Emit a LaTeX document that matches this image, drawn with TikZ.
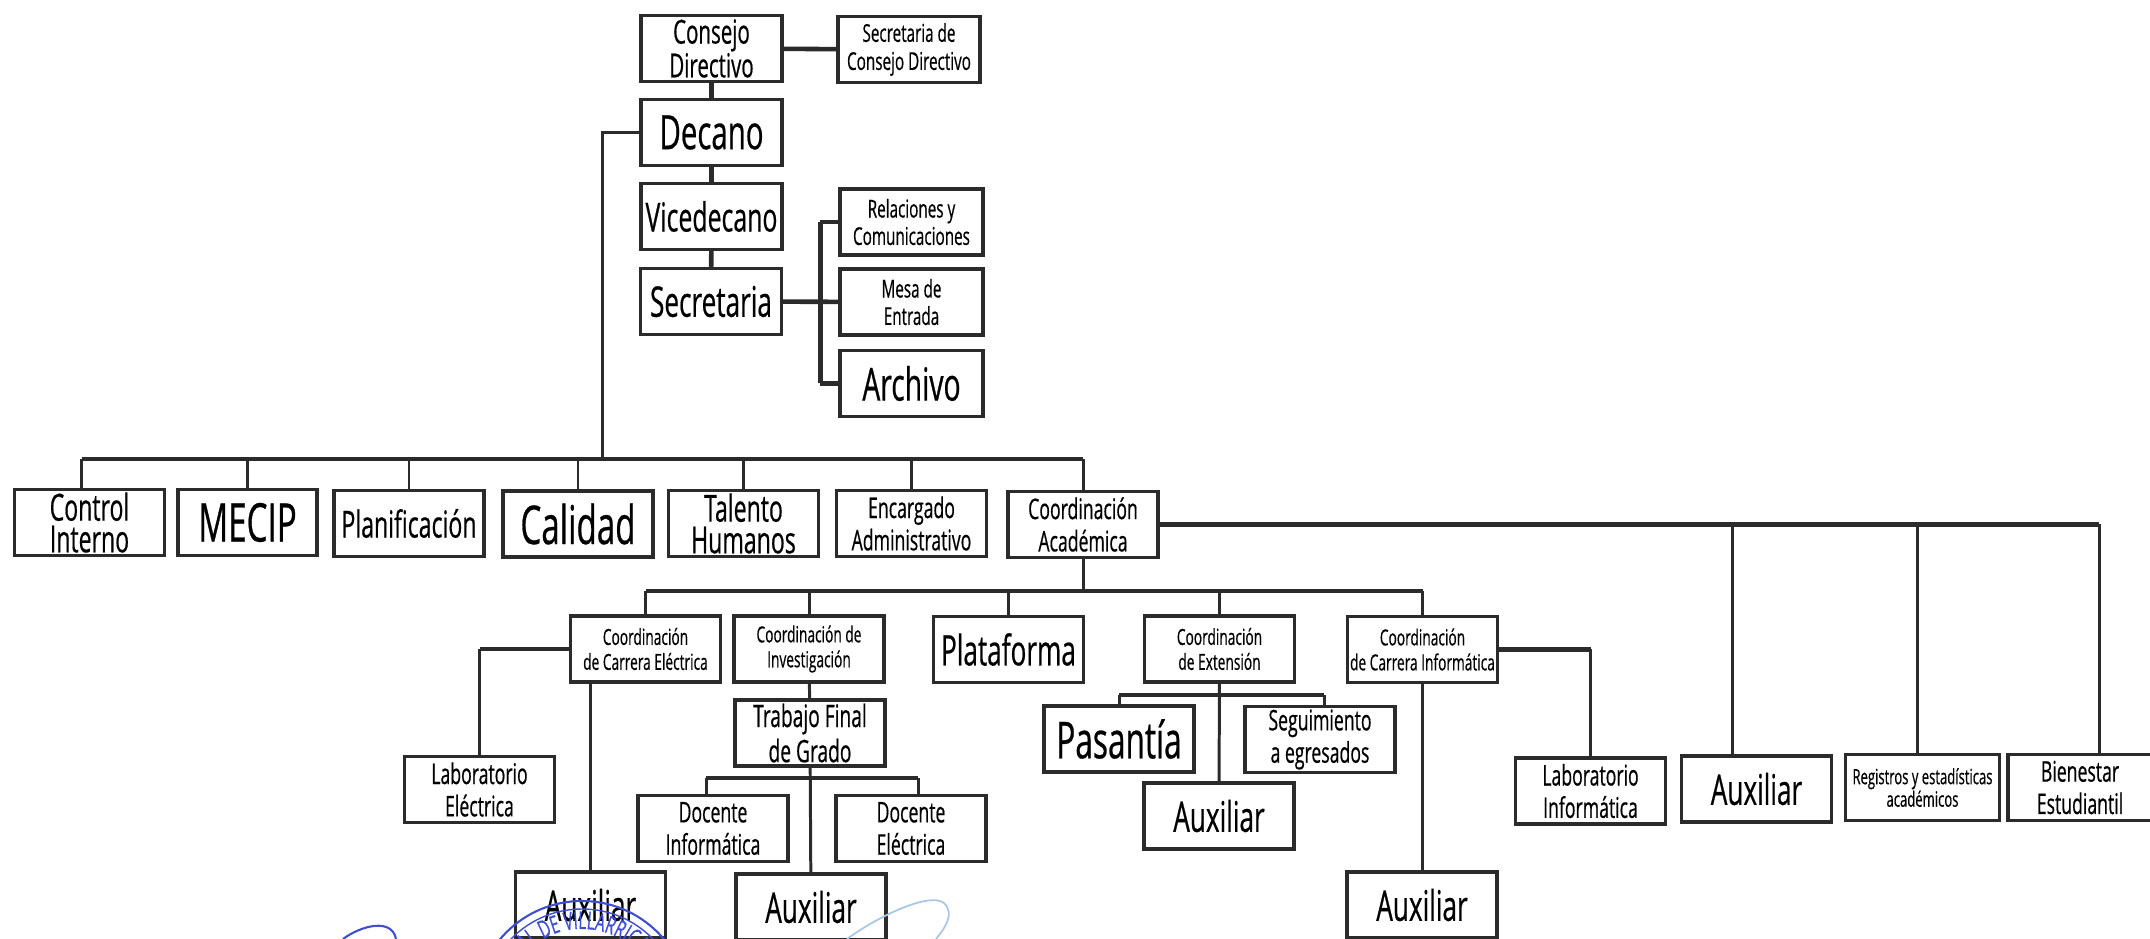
\documentclass[tikz,border=0pt]{standalone}
\usepackage{fontspec}
\usepackage{tikz}
\usetikzlibrary{decorations.text}
\newfontfamily\orgfont[FakeStretch=0.62, FakeBold=0.5]{Open Sans}

\definecolor{inkline}{HTML}{2B2B2B}
\definecolor{stampblue}{HTML}{3F4FD0}
\definecolor{signblue}{HTML}{A9C6E6}

\tikzset{
    orgbox/.style={draw=inkline, line width=0.95pt, text=black, align=center, inner sep=0pt,
        minimum width=1.50cm, minimum height=0.66cm},
    txtA/.style={font=\orgfont\fontsize{15.2}{16}\selectfont},
    txtB/.style={font=\orgfont\fontsize{12}{13}\selectfont},
    txtC/.style={font=\orgfont\fontsize{10.6}{9}\selectfont},
    txtD/.style={font=\orgfont\fontsize{8.1}{9.2}\selectfont},
    txtE/.style={font=\orgfont\fontsize{7}{7.8}\selectfont},
    txtF/.style={font=\orgfont\fontsize{6.3}{7.1}\selectfont},
    txtG/.style={font=\orgfont\fontsize{6}{6.4}\selectfont},
    lnk/.style={draw=inkline, line width=0.85pt},
    busline/.style={draw=inkline, line width=1.3pt}
}

\begin{document}
\begin{tikzpicture}[scale=1.0, y=-1cm]
        \useasboundingbox (0, 0) rectangle (21.5, 9.39);

        % Top of the chart
        \node[orgbox, font=\orgfont\fontsize{9.4}{9.6}\selectfont, minimum width=1.41cm] (consejo) at (7.115, 0.485) {Consejo\\Directivo};
        \node[orgbox, font=\orgfont\fontsize{7}{8}\selectfont, minimum width=1.42cm] (secconsejo) at (9.09, 0.495) {Secretaria de\\Consejo Directivo};
        \node[orgbox, font=\orgfont\fontsize{13.5}{15}\selectfont, minimum width=1.41cm] (decano) at (7.115, 1.325) {Decano};
        \node[orgbox, font=\orgfont\fontsize{11.4}{13}\selectfont, minimum width=1.41cm] (vice) at (7.115, 2.165) {Vicedecano};
        \node[orgbox, txtB, minimum width=1.41cm] (secre) at (7.11, 3.015) {Secretaria};
        \node[orgbox, txtE, minimum width=1.43cm] (relac) at (9.115, 2.22) {Relaciones y\\Comunicaciones};
        \node[orgbox, txtE, minimum width=1.43cm] (mesa) at (9.115, 3.02) {Mesa de\\Entrada};
        \node[orgbox, font=\orgfont\fontsize{13}{14}\selectfont, minimum width=1.43cm] (archivo) at (9.115, 3.835) {Archivo};

        % First row
        \node[orgbox, txtC] (ctlint) at (0.895, 5.225) {Control\\Interno};
        \node[orgbox, txtA, minimum width=1.39cm] (mecip) at (2.475, 5.225) {MECIP};
        \node[orgbox, txtC] (plan) at (4.09, 5.235) {Planificación};
        \node[orgbox, txtA] (calidad) at (5.78, 5.24) {Calidad};
        \node[orgbox, txtC] (talento) at (7.435, 5.235) {Talento\\Humanos};
        \node[orgbox, txtD] (encarg) at (9.115, 5.235) {Encargado\\Administrativo};
        \node[orgbox, txtD] (acad) at (10.83, 5.245) {Coordinación\\Académica};

        % Second row
        \node[orgbox, txtF] (carelec) at (6.455, 6.49) {Coordinación\\de Carrera Eléctrica};
        \node[orgbox, txtF] (invest) at (8.09, 6.49) {Coordinación de\\Investigación};
        \node[orgbox, txtB] (plataf) at (10.085, 6.495) {Plataforma};
        \node[orgbox, txtF] (extens) at (12.195, 6.49) {Coordinación\\de Extensión};
        \node[orgbox, txtF] (carinf) at (14.225, 6.495) {Coordinación\\de Carrera Informática};

        % Under the second row
        \node[orgbox, txtD] (labelec) at (4.795, 7.895) {Laboratorio\\Eléctrica};
        \node[orgbox, font=\orgfont\fontsize{8.8}{10}\selectfont] (trabajo) at (8.10, 7.33) {Trabajo Final\\de Grado};
        \node[orgbox, txtD] (docinf) at (7.13, 8.285) {Docente\\Informática};
        \node[orgbox, txtD] (docelec) at (9.11, 8.285) {Docente\\Eléctrica};
        \node[orgbox, txtB] (auxelec) at (5.905, 9.05) {Auxiliar};
        \node[orgbox, txtB] (auxinv) at (8.11, 9.07) {Auxiliar};
        \node[orgbox, font=\orgfont\fontsize{14.5}{16}\selectfont] (pasantia) at (11.19, 7.39) {Pasantía};
        \node[orgbox, txtD] (seguim) at (13.2, 7.395) {Seguimiento\\a egresados};
        \node[orgbox, txtB] (auxext) at (12.19, 8.16) {Auxiliar};
        \node[orgbox, txtD] (labinf) at (15.905, 7.91) {Laboratorio\\Informática};
        \node[orgbox, txtB] (auxinf) at (14.22, 9.05) {Auxiliar};

        % Right column
        \node[orgbox, txtB] (auxcoord) at (17.565, 7.89) {Auxiliar};
        \node[orgbox, txtG, minimum width=1.54cm] (regis) at (19.225, 7.875) {Registros y estadísticas\\académicos};
        \node[orgbox, txtD, minimum width=1.44cm] (bienes) at (20.80, 7.875) {Bienestar\\Estudiantil};

        % Bus lines
        \coordinate (busA) at (6.02, 4.59);
        \coordinate (busB) at (10.82, 5.91);
        \coordinate (busC) at (8.10, 7.78);
        \coordinate (busD) at (12.20, 6.95);

        % Chain at the top
        \draw[busline] (consejo) -- (secconsejo);
        \draw[busline] (consejo) -- (decano);
        \draw[busline] (decano) -- (vice);
        \draw[busline] (vice) -- (secre);
        \draw[busline] (secre) -- (mesa);
        \draw[busline] ([xshift=-0.18cm]relac.west) -- (relac.west);
        \draw[busline] ([xshift=-0.18cm]archivo.west) -- (archivo.west);
        \draw[busline] ([xshift=-0.18cm]relac.west) -- ([xshift=-0.18cm]archivo.west);
        \draw[lnk] (decano.west) -| (busA);

        % First row bus
        \draw[busline] ([xshift=-0.08cm]ctlint.north |- busA) -- (acad.north |- busA);
        \draw[lnk] ([xshift=-0.08cm]ctlint.north) -- ([xshift=-0.08cm]ctlint.north |- busA);
        \foreach \name in {mecip, plan, calidad, talento, encarg, acad} {
            \draw[lnk] (\name.north) -- (\name.north |- busA);
        }

        % Second row bus
        \draw[lnk] (acad.south) -- (acad.south |- busB);
        \draw[busline] (carelec.north |- busB) -- (carinf.north |- busB);
        \foreach \name in {carelec, invest, plataf, extens, carinf} {
            \draw[lnk] (\name.north) -- (\name.north |- busB);
        }

        % Branches of the second row
        \draw[busline] (carelec.west) -- (carelec.west -| labelec.north);
        \draw[lnk] (labelec.north) -- (carelec.west -| labelec.north);
        \draw[lnk] (auxelec.north) -- (auxelec.north |- carelec.south);
        \draw[busline] (carinf.east) -- (carinf.east -| labinf.north);
        \draw[lnk] (labinf.north) -- (carinf.east -| labinf.north);
        \draw[lnk] (auxinf.north) -- (auxinf.north |- carinf.south);
        \draw[lnk] (invest) -- (trabajo);
        \draw[lnk] (trabajo) -- (auxinv);
        \draw[busline] ([xshift=-0.07cm]docinf.north |- busC) -- ([xshift=0.07cm]docelec.north |- busC);
        \draw[lnk] ([xshift=-0.07cm]docinf.north) -- ([xshift=-0.07cm]docinf.north |- busC);
        \draw[lnk] ([xshift=0.07cm]docelec.north) -- ([xshift=0.07cm]docelec.north |- busC);
        \draw[lnk] (extens) -- (auxext);
        \draw[busline] (pasantia.north |- busD) -- ([xshift=0.04cm]seguim.north |- busD);
        \draw[lnk] (pasantia.north |- busD) -- (pasantia.north);
        \draw[lnk] ([xshift=0.04cm]seguim.north) -- ([xshift=0.04cm]seguim.north |- busD);

        % Right column bus
        \draw[busline] (acad.east) -- ([xshift=0.19cm]acad.east -| bienes.north);
        \draw[lnk] ([xshift=-0.24cm]auxcoord.north) -- ([xshift=-0.24cm]auxcoord.north |- acad.east);
        \draw[lnk] ([xshift=-0.05cm]regis.north) -- ([xshift=-0.05cm]regis.north |- acad.east);
        \draw[lnk] ([xshift=0.19cm]bienes.north) -- ([xshift=0.19cm]bienes.north |- acad.east);

        % Stamp and signatures
        \draw[stampblue, line width=0.6pt] (5.82, 10.08) circle (1.07);
        \draw[stampblue, line width=0.4pt] (5.82, 10.08) circle (0.99);
        \path[decorate, decoration={text along path, text color=stampblue, text align=left,
            text={|\orgfont\fontsize{7}{7}\selectfont|AL DE VILLARRICA}}]
            (5.261, 9.521) .. controls (5.691, 9.091) and (6.426, 9.289) .. (6.583, 9.876);
        \draw[stampblue, line width=0.6pt] (3.43, 9.39) .. controls (3.62, 9.25) and (3.92, 9.18) .. (3.96, 9.39);
        \draw[signblue, line width=0.5pt] (8.47, 9.39) .. controls (8.8, 9.15) and (9.3, 8.92) .. (9.44, 9.03) .. controls (9.55, 9.14) and (9.45, 9.28) .. (9.36, 9.39);
    \end{tikzpicture}
\end{document}
